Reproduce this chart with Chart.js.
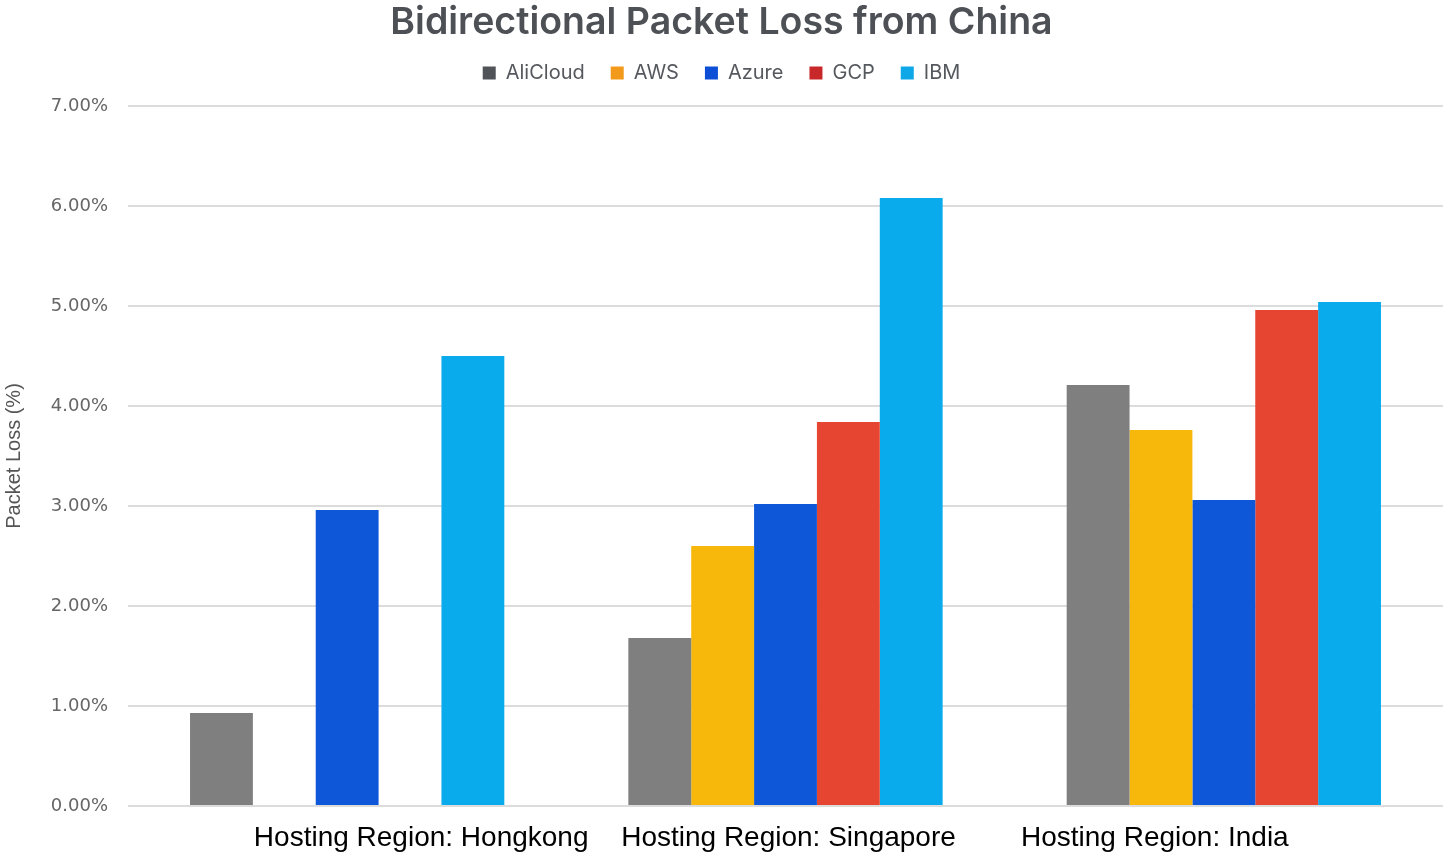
<!DOCTYPE html>
<html>
<head>
<meta charset="utf-8">
<title>Bidirectional Packet Loss from China</title>
<script src="https://cdn.jsdelivr.net/npm/chart.js@4/dist/chart.umd.min.js"></script>
<style>
  html, body { margin: 0; padding: 0; background: #fff; }
  #wrap { width: 1446px; height: 856px; position: relative; }
</style>
</head>
<body>
<div id="wrap"><canvas id="lossChart"></canvas></div>
<script>
// ── Data ─────────────────────────────────────────────────────────────────────
const regions = ['Hosting Region: Hongkong', 'Hosting Region: Singapore', 'Hosting Region: India'];
const providers = ['AliCloud', 'AWS', 'Azure', 'GCP', 'IBM'];

const aliCloud = [0.93, 1.68, 4.21];
const aws      = [null, 2.60, 3.76];
const azure    = [2.96, 3.02, 3.06];
const gcp      = [null, 3.84, 4.96];
const ibm      = [4.50, 6.08, 5.04];

const yTicks = [0, 1, 2, 3, 4, 5, 6, 7];

// bar fills and the (slightly darker) legend swatches
const barColors    = ['#7f7f7f', '#f8b80b', '#0d57d8', '#e64531', '#0aabec'];
const legendColors = ['#505358', '#f39a1c', '#0c4fd6', '#c9282a', '#0ea8e8'];

// region labels sit a little off the group centres
const labelShift = [74, 3, -69];

// ── Region labels under the axis ─────────────────────────────────────────────
const regionLabels = {
    id: 'regionLabels',
    afterDraw(chart) {
        const { ctx, scales: { x } } = chart;
        ctx.save();
        ctx.font = '28px "Liberation Sans", Arial, sans-serif';
        ctx.fillStyle = '#000';
        ctx.textAlign = 'center';
        ctx.textBaseline = 'middle';
        regions.forEach((r, i) => {
            ctx.fillText(r, x.getPixelForValue(i) + labelShift[i], 838);
        });
        ctx.restore();
    }
};

// extra room between the legend row and the plot
const legendGap = {
    id: 'legendGap',
    beforeLayout(chart) {
        const lg = chart.legend;
        if (lg && !lg._gapPatched) {
            const fit = lg.fit;
            lg.fit = function () { fit.call(this); this.height += 13; };
            lg._gapPatched = true;
        }
    }
};

// ── Chart ────────────────────────────────────────────────────────────────────
const series = [aliCloud, aws, azure, gcp, ibm];
const ctx = document.getElementById('lossChart').getContext('2d');
const chart = new Chart(ctx, {
    type: 'bar',
    data: {
        labels: regions,
        datasets: providers.map((p, i) => ({
            label: p,
            data: series[i],
            backgroundColor: barColors[i],
            borderWidth: 0,
            barPercentage: 1.0,
            categoryPercentage: 0.717,
        }))
    },
    options: {
        responsive: true,
        maintainAspectRatio: false,
        animation: false,
        layout: { padding: { left: 0, right: 3, top: 0, bottom: 50 } },
        plugins: {
            title: {
                display: true,
                text: 'Bidirectional Packet Loss from China',
                color: '#4d5156',
                font: { family: 'Inter', size: 37.5, weight: 600 },
                padding: { top: 0, bottom: -8 }
            },
            legend: {
                display: true,
                labels: {
                    color: '#55595e',
                    font: { family: 'Inter', size: 20 },
                    boxWidth: 13,
                    boxHeight: 13,
                    padding: 26,
                    generateLabels(chart) {
                        return providers.map((p, i) => ({
                            text: p,
                            fillStyle: legendColors[i],
                            strokeStyle: legendColors[i],
                            lineWidth: 0,
                            fontColor: '#55595e',
                            datasetIndex: i,
                            hidden: false
                        }));
                    }
                }
            },
            tooltip: { enabled: false }
        },
        scales: {
            x: {
                grid: { display: false, drawTicks: false },
                border: { display: false },
                ticks: { display: false }
            },
            y: {
                min: 0,
                max: 7,
                afterBuildTicks(scale) {
                    scale.ticks = yTicks.map(v => ({ value: v }));
                },
                afterFit(scale) { scale.width = 128; },
                grid: { color: '#dcdcdc', lineWidth: 2, drawTicks: false },
                border: { display: false },
                ticks: {
                    color: '#666',
                    padding: 20,
                    font: { family: 'DejaVu Sans', size: 18 },
                    callback: v => v.toFixed(2) + '%'
                },
                title: {
                    display: true,
                    text: 'Packet Loss (%)',
                    color: '#555',
                    font: { family: 'Liberation Sans', size: 20 },
                    padding: { top: 2, bottom: 0 }
                }
            }
        }
    },
    plugins: [regionLabels, legendGap]
});
</script>
</body>
</html>
